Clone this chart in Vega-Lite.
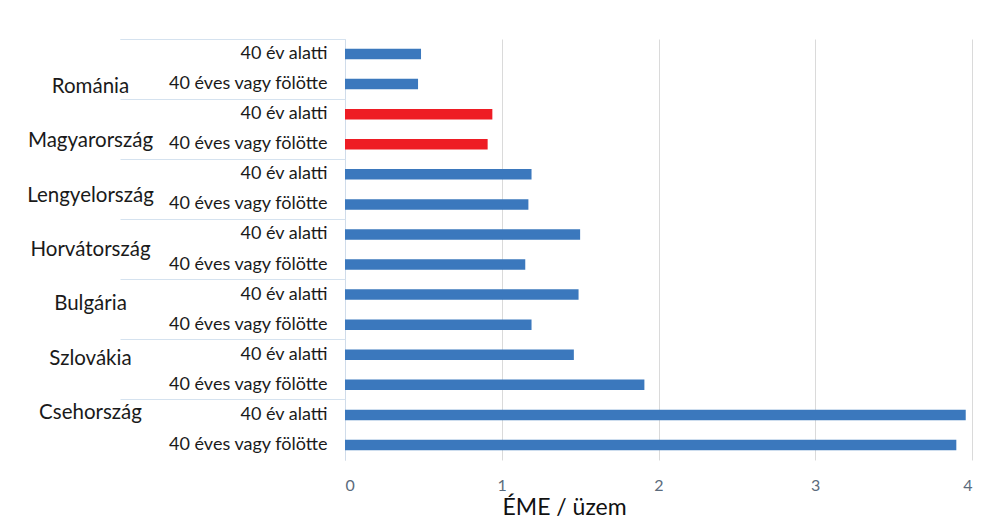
{
  "$schema": "https://vega.github.io/schema/vega-lite/v6.json",
  "width": 627,
  "height": 421,
  "autosize": "none",
  "padding": {"left": 345, "top": 39, "right": 23, "bottom": 60},
  "background": "white",
  "config": {"view": {"stroke": null}, "font": "Lato"},
  "data": {"values": [
    {"country": "Románia", "age": "40 év alatti", "row": "Románia|40 év alatti", "value": 0.485},
    {"country": "Románia", "age": "40 éves vagy fölötte", "row": "Románia|40 éves vagy fölötte", "value": 0.466},
    {"country": "Magyarország", "age": "40 év alatti", "row": "Magyarország|40 év alatti", "value": 0.94},
    {"country": "Magyarország", "age": "40 éves vagy fölötte", "row": "Magyarország|40 éves vagy fölötte", "value": 0.91},
    {"country": "Lengyelország", "age": "40 év alatti", "row": "Lengyelország|40 év alatti", "value": 1.19},
    {"country": "Lengyelország", "age": "40 éves vagy fölötte", "row": "Lengyelország|40 éves vagy fölötte", "value": 1.17},
    {"country": "Horvátország", "age": "40 év alatti", "row": "Horvátország|40 év alatti", "value": 1.5},
    {"country": "Horvátország", "age": "40 éves vagy fölötte", "row": "Horvátország|40 éves vagy fölötte", "value": 1.15},
    {"country": "Bulgária", "age": "40 év alatti", "row": "Bulgária|40 év alatti", "value": 1.49},
    {"country": "Bulgária", "age": "40 éves vagy fölötte", "row": "Bulgária|40 éves vagy fölötte", "value": 1.19},
    {"country": "Szlovákia", "age": "40 év alatti", "row": "Szlovákia|40 év alatti", "value": 1.46},
    {"country": "Szlovákia", "age": "40 éves vagy fölötte", "row": "Szlovákia|40 éves vagy fölötte", "value": 1.91},
    {"country": "Csehország", "age": "40 év alatti", "row": "Csehország|40 év alatti", "value": 3.96},
    {"country": "Csehország", "age": "40 éves vagy fölötte", "row": "Csehország|40 éves vagy fölötte", "value": 3.9}
  ]},
  "layer": [
    {
      "mark": {"type": "bar", "height": {"band": 0.35}},
      "encoding": {
        "y": {
          "field": "row", "type": "nominal", "sort": null,
          "scale": {"paddingInner": 0, "paddingOuter": 0},
          "axis": {
            "title": null, "orient": "left",
            "labelExpr": "split(datum.label, '|')[1]",
            "ticks": false, "domain": true, "domainColor": "#d0dcea",
            "labelFontSize": 18, "labelColor": "#1a1a1a", "labelPadding": 18
          }
        },
        "x": {
          "field": "value", "type": "quantitative",
          "scale": {"domain": [0, 4], "nice": false},
          "axis": {
            "values": [0, 1, 2, 3, 4], "grid": true, "gridColor": "#dadada",
            "domain": false, "ticks": false,
            "labelFontSize": 16, "labelColor": "#5b6b7c", "labelPadding": 17,
            "title": "ÉME / üzem", "titleFontSize": 23, "titleFontWeight": "normal",
            "titleColor": "#111111", "titlePadding": 3,
            "titleAnchor": "start", "titleAlign": "left", "titleX": 157
          }
        },
        "color": {
          "condition": {"test": "datum.country === 'Magyarország'", "value": "#ee1c24"},
          "value": "#3b78bd"
        }
      }
    },
    {
      "mark": {"type": "point", "opacity": 0},
      "encoding": {
        "y": {
          "field": "country", "type": "nominal", "sort": null,
          "scale": {"type": "band", "paddingInner": 0, "paddingOuter": 0},
          "axis": {
            "title": null, "orient": "left", "labels": false, "domain": false,
            "grid": false, "ticks": true, "bandPosition": 0, "tickExtra": true,
            "tickSize": 225, "tickColor": "#d5e2ef", "tickWidth": 1
          }
        }
      }
    },
    {
      "mark": {"type": "point", "opacity": 0},
      "encoding": {
        "y": {
          "field": "country", "type": "nominal", "sort": null,
          "scale": {"type": "point", "padding": 0.88},
          "axis": {
            "title": null, "orient": "left", "ticks": false, "domain": false,
            "grid": false, "labelAlign": "center", "labelPadding": 255,
            "labelFontSize": 20.5, "labelColor": "#1a1a1a"
          }
        }
      }
    }
  ],
  "resolve": {"scale": {"y": "independent"}, "axis": {"y": "independent"}}
}
